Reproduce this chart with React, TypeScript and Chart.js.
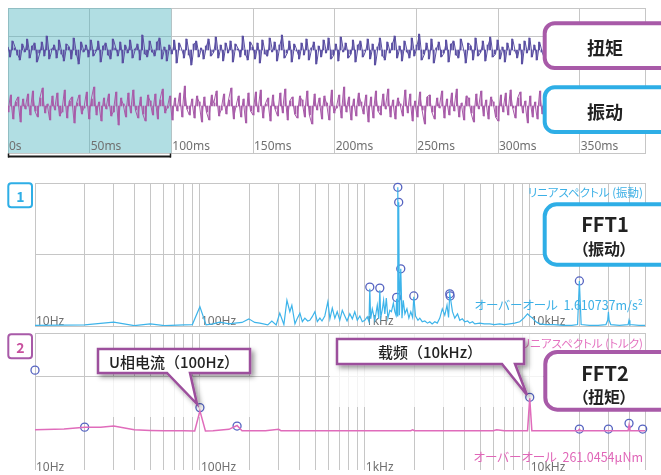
import React, { useEffect, useRef } from 'react';
import { Chart, registerables } from 'chart.js';

Chart.register(...registerables);

// ---------- time domain ----------
const sampleStepMs = 1.5;
const timeMaxMs = 390;
const timeTicks = [0, 50, 100, 150, 200, 250, 300, 350];
const timeTickLabels = ['0s', '50ms', '100ms', '150ms', '200ms', '250ms', '300ms', '350ms'];
const highlightStartMs = 0;
const highlightEndMs = 100;

const torqueSignal = [
  3, -7, 9, 2, -5, -10, 6, -2, 11, -8, 4, 7, -12, -3, 8, -6, 14, -9, 1, 5,
  -8, 10, -4, -11, 6, 3, -9, 12, -5, -14, 8, -2, 5, -7, 10, -6, -1, 9, -12, 4,
  7, -5, -9, 11, 2, -6, 8, -13, 5, -3, 10, -8, 1, 6, -10, 15, -4, -7, 9, -2,
  -6, 8, 12, -9, 3, -11, 5, -4, 10, -13, 7, 0, -8, 11, -5, -15, 6, 9, -7, 2,
  -9, 4, 11, -6, -2, 13, -8, 5, -11, 7, -3, 9, -12, 6, 1, -7, 14, -5, -10, 8,
  3, -9, 7, -13, 10, -4, -6, 12, -2, 8, -11, 5, 15, -8, -3, 9, -12, 6, -1, -9,
  7, -5, 11, -10, 2, 8, -14, 4, -7, 10, -3, 12, -9, -5, 6, -11, 13, -2, 7, -8,
  -4, 10, -12, 5, 9, -7, -1, 11, -9, 6, -15, 3, 12, -6, -10, 8, -3, 7, 14, -8,
  4, -11, 9, -2, -8, 12, -6, 5, 16, -10, -4, 7, -9, 11, -13, 2, 8, -7, -3, 10,
  -12, 6, 9, -5, -8, 11, 0, -13, 7, 4, -10, 12, -6, -2, 9, -11, 5, 13, -7, -4,
  10, -9, 3, -12, 7, -5, 11, -1, -8, 6, -14, 9, -3, 12, -7, 5, -10, 8, -2, -9,
  6, -13, 11, -4, 8, -7, 15, -9, 2, -6, 10, -11, 4, -12, 7, -3, 12, -8, 5, -10,
  -3, 8, 11, -7, 13, -9, 2, -6, 10, -4, 7, -12, -1, 9, -10, 6, -14, 4, 8, -6,
];

const vibrationSignal = [
  -6, 11, -13, 4, 9, -16, 7, -3, 12, -9, 15, -5, -11, 8, 18, -7, 2, -14, 10, -4,
  13, -10, -6, 16, -12, 5, 9, -17, 3, 11, -8, -2, 14, -13, 7, 19, -9, 4, -15, 8,
  -3, 12, -10, -6, 14, -19, 8, 2, -11, 13, -7, 16, -4, -12, 9, -8, -15, 11, 5, -9,
  12, -13, 6, 17, -7, -2, 10, -14, 8, -5, 13, -11, 20, -3, -9, 7, -12, 10, 4, -16,
  9, -6, -14, 11, 3, 15, -10, -4, 12, -8, 6, 18, -13, -1, 10, -11, 7, -17, 13, -5,
  -9, 14, -6, 16, -12, 2, 8, -15, 11, -3, -10, 13, -7, 17, -14, 5, 9, -8, -12, 10,
  6, -11, 15, -9, -18, 12, -4, 8, -13, 10, 3, -14, 16, -7, -2, 11, -12, 19, -6, 9,
  -14, 7, -10, 13, 4, -8, 11, -16, 9, -12, 15, -5, -9, 12, -3, 17, -11, 6, -13, 8,
  2, -10, 16, -7, 12, -15, 5, -11, 14, -4, -18, 9, 11, -6, -13, 8, -2, 15, -12, 7,
  -9, 13, -5, 17, -11, 3, -14, 10, 8, -7, -16, 12, -3, 15, -10, 6, -13, 9, 4, -11,
  -15, 11, -6, 13, -9, 16, -2, -12, 8, 14, -7, 5, -17, 10, -11, 4, -13, 15, -8, 12,
  -4, 14, -16, 9, -7, 12, 3, -10, -14, 18, -6, 11, -9, 2, -15, 13, -11, 16, -5, 10,
  -12, 7, -10, 15, -3, 12, -14, 6, -9, 17, -13, 5, -16, 11, -6, 14, -8, 10, -12, 9,
];

// ---------- frequency domain ----------
const freqGrid = [
  10, 20, 30, 40, 50, 60, 70, 80, 90,
  100, 200, 300, 400, 500, 600, 700, 800, 900,
  1000, 2000, 3000, 4000, 5000, 6000, 7000, 8000, 9000,
  10000, 20000, 30000, 40000, 50000,
];
const freqTickValues = [10, 100, 1000, 10000];
const freqTickLabels = ['10Hz', '100Hz', '1kHz', '10kHz'];

const fft1Freq = [
  10, 20, 30, 40, 50, 61, 80, 90, 100, 109, 120, 132, 150, 163, 180, 198, 215, 231, 258, 273,
  290, 305, 323, 337, 351, 361, 377, 390, 404, 418, 433, 450, 464, 480, 498, 515, 534, 550, 572, 597,
  614, 635, 658, 680, 705, 730, 756, 780, 811, 840, 869, 900, 933, 965, 1000, 1035, 1060, 1072, 1085, 1110,
  1150, 1190, 1215, 1233, 1250, 1275, 1300, 1322, 1350, 1380, 1418, 1450, 1490, 1520, 1545, 1560, 1575, 1585, 1595, 1605,
  1620, 1652, 1680, 1710, 1750, 1800, 1850, 1900, 1950, 1982, 2030, 2100, 2154, 2230, 2310, 2400, 2477, 2560, 2656, 2750,
  2848, 2950, 3054, 3150, 3220, 3275, 3320, 3400, 3511, 3650, 3765, 3900, 4037, 4200, 4329, 4500, 4642, 4977, 5300, 5722,
  6100, 6579, 7000, 7565, 8100, 8697, 9200, 9700, 10000, 10400, 10900, 11498, 12500, 14000, 16000, 18000, 19500, 20000, 20500, 23000,
  26000, 29000, 29700, 30000, 30300, 31000, 35000, 39500, 40000, 40500, 46000, 50000,
];
const fft1Amp = [
  0.01, 0.015, 0.055, 0.005, 0.03, 0.005, 0.015, 0.02, 0.27, 0.015, 0.03, 0.055, 0.03, 0.04, 0.05, 0.1, 0.05, 0.04, 0.015, 0.07,
  0.015, 0.18, 0.02, 0.36, 0.2, 0.29, 0.03, 0.11, 0.18, 0.06, 0.11, 0.07, 0.08, 0.13, 0.2, 0.06, 0.11, 0.07, 0.14, 0.34,
  0.1, 0.25, 0.11, 0.2, 0.08, 0.22, 0.14, 0.07, 0.17, 0.1, 0.2, 0.08, 0.14, 0.06, 0.08, 0.13, 0.06, 0.52, 0.1, 0.24,
  0.08, 0.29, 0.1, 0.5, 0.12, 0.22, 0.36, 0.17, 0.39, 0.11, 0.22, 0.2, 0.32, 0.2, 0.15, 0.38, 0.14, 1.94, 0.5, 1.73,
  0.15, 0.8, 0.11, 0.36, 0.17, 0.24, 0.11, 0.2, 0.12, 0.41, 0.14, 0.08, 0.11, 0.06, 0.07, 0.04, 0.06, 0.03, 0.06, 0.04,
  0.11, 0.24, 0.15, 0.29, 0.12, 0.45, 0.36, 0.2, 0.11, 0.17, 0.08, 0.1, 0.06, 0.07, 0.04, 0.06, 0.03, 0.04, 0.03, 0.03,
  0.02, 0.03, 0.02, 0.03, 0.04, 0.06, 0.11, 0.17, 0.14, 0.11, 0.06, 0.03, 0.02, 0.02, 0.01, 0.01, 0.02, 0.63, 0.02, 0.01,
  0.01, 0.02, 0.08, 0.2, 0.08, 0.02, 0.01, 0.02, 0.08, 0.02, 0.01, 0.01,
];
const fft1PeakFreq = [1072, 1233, 1560, 1585, 1605, 1652, 1982, 3275, 3290, 20000];
const fft1PeakAmp = [0.545, 0.53, 0.4, 1.94, 1.73, 0.8, 0.42, 0.45, 0.42, 0.63];

const fft2Freq = [
  10, 15, 20, 25, 30, 40, 50, 60, 80, 93, 100, 108, 120, 150, 168, 180, 250, 300, 310, 500,
  1000, 1900, 1950, 2000, 3000, 6000, 6300, 7000, 8000, 9700, 10000, 10300, 15000, 19700, 20000, 20300, 30000, 39500, 40000, 40500,
  50000,
];
const fft2Amp = [
  2, 3.5, 7, 7, 9, 2, 1, 0.5, 0.5, 0, 37, 0, 0.5, 3, 10, 0.5, 0.5, 3, 0.5, 0.5,
  0.5, 0.5, 2, 0.5, 0.5, 0.5, 2, 0.5, 0.5, 0.5, 60, 0.5, 0.5, 0.5, 3, 0.5, 0.5, 0.5, 10, 0.5,
  0.5,
];
const fft2PeakFreq = [10, 20, 100, 168, 10000, 20000, 30000, 40000, 48400];
const fft2PeakAmp = [112, 7, 43, 9, 62, 3.5, 3.5, 14, 3.5];

// ---------- styling ----------
const GRID = '#c6c6c6';
const CYAN = '#2eaee6';
const MAGENTA = '#a85aa8';
const PINK = '#e06cbb';
const MARKER = '#5563c1';
const TORQUE_COLOR = '#5a4fa2';
const VIB_COLOR = '#a85ca9';
const TICK_FONT = '12px "Noto Sans", "DejaVu Sans", sans-serif';

const W = 661;
const H = 475;

function pts(xs: number[], ys: number[]) {
  return xs.map((x, i) => ({ x, y: ys[i] }));
}

function tickTextPlugin(values: number[], labels: string[], offsetFromBottom: number) {
  return {
    id: 'tickText',
    beforeDatasetsDraw(chart: any) {
      const ctx = chart.ctx;
      const xs = chart.scales.x;
      const y = chart.chartArea.bottom + offsetFromBottom;
      ctx.save();
      ctx.font = TICK_FONT;
      ctx.fillStyle = '#707070';
      ctx.textAlign = 'left';
      ctx.textBaseline = 'alphabetic';
      values.forEach((v, i) => ctx.fillText(labels[i], xs.getPixelForValue(v) + 1, y));
      ctx.restore();
    },
  };
}

const baseOpts = {
  animation: false as const,
  responsive: false,
  devicePixelRatio: 1,
  events: [] as any[],
  plugins: { legend: { display: false }, tooltip: { enabled: false } },
};

function hiddenAxisGrid() {
  return {
    ticks: { display: false },
    grid: { color: GRID, drawTicks: false, lineWidth: 1, offset: false },
    border: { color: GRID },
  };
}

function signalDatasets(values: number[], axis: string, color: string) {
  const data = values.map((v, i) => ({ x: i * sampleStepMs, y: v }));
  return [
    { type: 'bar', data, yAxisID: axis, backgroundColor: color, barPercentage: 1, categoryPercentage: 1, borderWidth: 0 },
    { type: 'line', data, yAxisID: axis, borderColor: color, borderWidth: 1, pointRadius: 0, tension: 0 },
  ];
}

function topConfig(): any {
  return {
    type: 'line',
    data: {
      datasets: [
        ...signalDatasets(torqueSignal, 'yT', TORQUE_COLOR),
        ...signalDatasets(vibrationSignal, 'yV', VIB_COLOR),
      ],
    },
    options: {
      ...baseOpts,
      layout: { padding: { left: 8, top: 8, right: W - 645, bottom: H - 153 } },
      scales: {
        x: {
          type: 'linear', min: 0, max: timeMaxMs, offset: false, ...hiddenAxisGrid(),
          afterBuildTicks: (s: any) => { s.ticks = [...timeTicks, timeMaxMs].map((v) => ({ value: v })); },
        },
        yT: {
          position: 'left', min: -103, max: 42, ...hiddenAxisGrid(),
          afterBuildTicks: (s: any) => { s.ticks = [{ value: 14 }, { value: 42 }]; },
        },
        yV: { display: false, min: -47, max: 98 },
      },
    },
    plugins: [
      {
        id: 'highlight',
        beforeDatasetsDraw(chart: any) {
          const { ctx, chartArea } = chart;
          const xs = chart.scales.x;
          const x0 = xs.getPixelForValue(highlightStartMs);
          const x1 = xs.getPixelForValue(highlightEndMs);
          ctx.save();
          ctx.fillStyle = 'rgba(80,180,192,0.445)';
          ctx.fillRect(x0, chartArea.top, x1 - x0, chartArea.bottom - chartArea.top);
          ctx.restore();
        },
        afterDraw(chart: any) {
          const { ctx, chartArea } = chart;
          const xs = chart.scales.x;
          const x0 = Math.round(xs.getPixelForValue(highlightStartMs));
          const x1 = Math.round(xs.getPixelForValue(highlightEndMs));
          const y = chartArea.bottom + 3.5;
          ctx.save();
          ctx.strokeStyle = '#1a1a1a';
          ctx.lineWidth = 2;
          ctx.beginPath();
          ctx.moveTo(x0, y);
          ctx.lineTo(x1, y);
          ctx.stroke();
          ctx.lineWidth = 1.5;
          ctx.beginPath();
          ctx.moveTo(x0 + 0.5, y - 3);
          ctx.lineTo(x0 + 0.5, y + 1);
          ctx.moveTo(x1 - 0.5, y - 3);
          ctx.lineTo(x1 - 0.5, y + 1);
          ctx.stroke();
          ctx.restore();
        },
      },
      tickTextPlugin(timeTicks, timeTickLabels, -3),
    ],
  };
}

function fftScales(yMin: number, yMax: number, yGrid: number[], xBorder: boolean) {
  return {
    x: {
      type: 'logarithmic', min: 10, max: 50000, ...hiddenAxisGrid(),
      border: { color: GRID, display: xBorder },
      afterBuildTicks: (s: any) => { s.ticks = freqGrid.map((v) => ({ value: v })); },
    },
    y: {
      type: 'linear', min: yMin, max: yMax, ...hiddenAxisGrid(),
      afterBuildTicks: (s: any) => { s.ticks = yGrid.map((v) => ({ value: v })); },
    },
  };
}

function markerDataset(xs: number[], ys: number[]) {
  return {
    data: pts(xs, ys), showLine: false, pointRadius: 4, pointBorderWidth: 1.3,
    pointBorderColor: MARKER, pointBackgroundColor: 'rgba(0,0,0,0)', clip: false,
  };
}

function fft1Config(): any {
  return {
    type: 'line',
    data: {
      datasets: [
        { data: pts(fft1Freq, fft1Amp), borderColor: '#3db4ea', borderWidth: 1.2, pointRadius: 0, tension: 0 },
        markerDataset(fft1PeakFreq, fft1PeakAmp),
      ],
    },
    options: {
      ...baseOpts,
      layout: { padding: { left: 35, top: 183, right: W - 645, bottom: H - 326 } },
      scales: fftScales(0, 2, [1, 2], true),
    },
    plugins: [tickTextPlugin(freqTickValues, freqTickLabels, -1)],
  };
}

function fft2Config(): any {
  const yMax = 180.4;
  return {
    type: 'line',
    data: {
      datasets: [
        { data: pts(fft2Freq, fft2Amp), borderColor: PINK, borderWidth: 1.5, pointRadius: 0, tension: 0 },
        markerDataset(fft2PeakFreq, fft2PeakAmp),
      ],
    },
    options: {
      ...baseOpts,
      layout: { padding: { left: 35, top: 333, right: W - 645, bottom: 1 } },
      scales: fftScales(-71.4, yMax, [100, yMax], false),
    },
    plugins: [
      {
        id: 'fade',
        beforeDatasetsDraw(chart: any) {
          const ctx = chart.ctx;
          ctx.save();
          ctx.fillStyle = 'rgba(255,255,255,0.78)';
          ctx.fillRect(110, 377, 146, 40);
          ctx.fillRect(330, 334, 213, 73);
          ctx.restore();
        },
      },
      tickTextPlugin(freqTickValues, freqTickLabels, 1),
    ],
  };
}

const cjkSC = '"Noto Sans CJK SC", "Noto Sans CJK JP", sans-serif';
const cjkJP = '"Noto Sans CJK JP", "Noto Sans CJK SC", sans-serif';
const palt = { fontFeatureSettings: '"palt"' } as React.CSSProperties;

export default function App() {
  const r1 = useRef<HTMLCanvasElement>(null);
  const r2 = useRef<HTMLCanvasElement>(null);
  const r3 = useRef<HTMLCanvasElement>(null);

  useEffect(() => {
    const charts = [
      new Chart(r1.current as HTMLCanvasElement, topConfig()),
      new Chart(r2.current as HTMLCanvasElement, fft1Config()),
      new Chart(r3.current as HTMLCanvasElement, fft2Config()),
    ];
    return () => charts.forEach((c) => c.destroy());
  }, []);

  const cv: React.CSSProperties = { position: 'absolute', left: 0, top: 0 };

  return (
    <div style={{ position: 'fixed', left: 0, top: 0, width: W, height: H, background: '#fff', overflow: 'hidden' }}>
      <canvas ref={r1} width={W} height={H} style={cv} />
      <canvas ref={r2} width={W} height={H} style={cv} />
      <canvas ref={r3} width={W} height={H} style={cv} />
      <svg width={W} height={H} style={{ position: 'absolute', left: 0, top: 0 }}>
        <defs>
          <filter id="sh" x="-10%" y="-20%" width="130%" height="170%">
            <feDropShadow dx="3" dy="3" stdDeviation="2.5" floodColor="#000" floodOpacity="0.4" />
          </filter>
        </defs>

        {/* signal labels */}
        <rect x={544.7} y={23.3} width={130} height={44.7} rx={10} fill="#fff" stroke={MAGENTA} strokeWidth={4} />
        <text x={605} y={46.5} textAnchor="middle" dominantBaseline="central" fontFamily={cjkSC} fontWeight="bold" fontSize={18} fill="#222">扭矩</text>
        <rect x={544.7} y={87.3} width={130} height={44.7} rx={10} fill="#fff" stroke={CYAN} strokeWidth={4} />
        <text x={605} y={110.5} textAnchor="middle" dominantBaseline="central" fontFamily={cjkSC} fontWeight="bold" fontSize={18} fill="#222">振动</text>

        {/* panel numbers */}
        <rect x={8.3} y={183.3} width={23.7} height={24} rx={3} fill="#fff" stroke={CYAN} strokeWidth={2} />
        <text x={20.5} y={196} textAnchor="middle" dominantBaseline="central" fontFamily={cjkSC} fontWeight="bold" fontSize={14} fill={CYAN}>1</text>
        <rect x={8.3} y={334.3} width={23.7} height={24} rx={3} fill="#fff" stroke={MAGENTA} strokeWidth={2} />
        <text x={20.5} y={347} textAnchor="middle" dominantBaseline="central" fontFamily={cjkSC} fontWeight="bold" fontSize={14} fill="#c8509e">2</text>

        {/* FFT1 texts */}
        <text x={643} y={191.5} textAnchor="end" dominantBaseline="central" fontFamily={cjkJP} fontSize={11.5} fill="#3cb0e6" style={palt}>リニアスペクトル (振動)</text>
        <text x={643} y={304.5} textAnchor="end" dominantBaseline="central" fontFamily={cjkJP} fontSize={12.5} fill="#3cb0e6" style={palt} xmlSpace="preserve">オーバーオール  1.610737m/s²</text>
        <rect x={544.7} y={204.3} width={130} height={60.4} rx={12} fill="#fff" stroke={CYAN} strokeWidth={4} />
        <text x={605} y={223.5} textAnchor="middle" dominantBaseline="central" fontFamily={cjkSC} fontWeight="bold" fontSize={20} fill="#222">FFT1</text>
        <text x={604} y={247.5} textAnchor="middle" dominantBaseline="central" fontFamily={cjkSC} fontWeight="bold" fontSize={16} fill="#222" style={palt}>（振动）</text>

        {/* FFT2 texts */}
        <text x={643} y={342.5} textAnchor="end" dominantBaseline="central" fontFamily={cjkJP} fontSize={11.5} fill="#e472c0" style={palt}>リニアスペクトル (トルク)</text>
        <text x={643} y={456} textAnchor="end" dominantBaseline="central" fontFamily={cjkJP} fontSize={12.5} fill="#e066b8" style={palt} xmlSpace="preserve">オーバーオール  261.0454μNm</text>
        <rect x={545.3} y={352} width={130} height={57.7} rx={12} fill="#fff" stroke={MAGENTA} strokeWidth={4} />
        <text x={605} y={372.5} textAnchor="middle" dominantBaseline="central" fontFamily={cjkSC} fontWeight="bold" fontSize={20} fill="#222">FFT2</text>
        <text x={604} y={395.5} textAnchor="middle" dominantBaseline="central" fontFamily={cjkSC} fontWeight="bold" fontSize={16} fill="#222" style={palt}>（扭矩）</text>

        {/* callouts */}
        <path d="M98,349 H250 V373 H190 L197,404 L167,373 H98 Z" fill="#fff" stroke="#9c4f9c" strokeWidth={2.5} strokeLinejoin="miter" filter="url(#sh)" />
        <text x={174} y={361.5} textAnchor="middle" dominantBaseline="central" fontFamily={cjkSC} fontWeight={500} fontSize={15} fill="#222">U相电流（100Hz）</text>
        <path d="M337,339 H524 V364 H515 L527,395 L502,364 H337 Z" fill="#fff" stroke="#9c4f9c" strokeWidth={2.5} strokeLinejoin="miter" filter="url(#sh)" />
        <text x={430} y={351.5} textAnchor="middle" dominantBaseline="central" fontFamily={cjkSC} fontWeight={500} fontSize={15} fill="#222">载频（10kHz）</text>
      </svg>
    </div>
  );
}
